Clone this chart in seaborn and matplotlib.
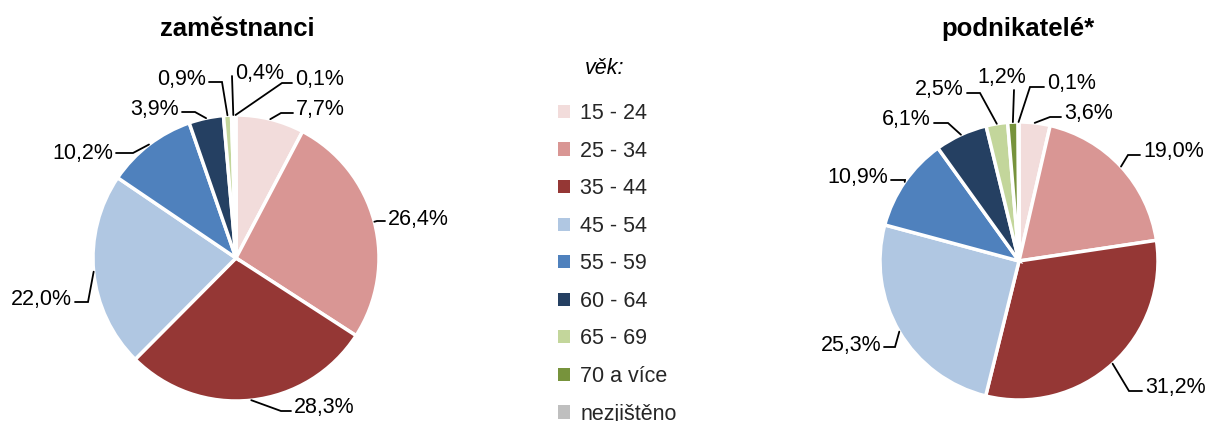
import numpy as np
import matplotlib
matplotlib.use("Agg")
import matplotlib.pyplot as plt
from matplotlib.patches import Patch
import seaborn as sns

# data
age_groups = ["15 - 24", "25 - 34", "35 - 44", "45 - 54", "55 - 59",
              "60 - 64", "65 - 69", "70 a více", "nezjištěno"]
zamestnanci = [7.7, 26.4, 28.3, 22.0, 10.2, 3.9, 0.9, 0.4, 0.1]
podnikatele = [3.6, 19.0, 31.2, 25.3, 10.9, 6.1, 2.5, 1.2, 0.1]
titles = ["zaměstnanci", "podnikatelé*"]

colors = ["#F2DCDB", "#D99694", "#953735", "#B0C7E2", "#4F81BD",
          "#254062", "#C3D69B", "#77933C", "#BFBFBF"]

sns.set_theme(style="white")
plt.rcParams["font.family"] = ["Liberation Sans", "DejaVu Sans"]
palette = sns.color_palette(colors)

W, H = 1208, 421
fig = plt.figure(figsize=(W / 100, H / 100), dpi=100)
ax = fig.add_axes([0, 0, 1, 1])

# layout (pixel coords, y from top): pie centre, radius, label text (x, y, ha), elbow of leader line
pies = [
    dict(vals=zamestnanci, cx=236, cy=258, r=143, tx=237,
         labels=[(296, 110, "left", 281, 113),
                 (388, 220, "left", 377, 221),
                 (294, 408, "left", 281, 411),
                 (72, 300, "right", 88, 302),
                 (113, 153, "right", 133, 153),
                 (179, 109, "right", 195, 112),
                 (206, 79, "right", 222, 82),
                 (235, 73, "left", 232, 76),
                 (295, 80, "left", 282, 83)]),
    dict(vals=podnikatele, cx=1019, cy=261, r=139, tx=1018,
         labels=[(1064, 114, "left", 1050, 117),
                 (1143, 152, "left", 1128, 155),
                 (1145, 388, "left", 1129, 391),
                 (881, 345, "right", 895, 347),
                 (888, 177, "right", 905, 180),
                 (931, 120, "right", 948, 123),
                 (964, 90, "right", 980, 93),
                 (1002, 78, "center", 1014, 90),
                 (1047, 84, "left", 1030, 87)]),
]

fs = 15.5
for p, title in zip(pies, titles):
    wedges, _ = ax.pie(p["vals"], colors=palette, startangle=90, counterclock=False,
                       center=(p["cx"], H - p["cy"]), radius=p["r"],
                       wedgeprops=dict(edgecolor="white", linewidth=2.5))
    for w, v, (tx, ty, ha, ex, ey) in zip(wedges, p["vals"], p["labels"]):
        ang = np.deg2rad((w.theta1 + w.theta2) / 2)
        px = p["cx"] + p["r"] * np.cos(ang)
        py = (H - p["cy"]) + p["r"] * np.sin(ang)
        if ha == "left":
            sx = tx - 3
        elif ha == "right":
            sx = tx + 3
        else:
            sx = ex
        ax.plot([px, ex, sx], [py, H - ey, H - ey], color="black", lw=1.3,
                solid_joinstyle="miter", clip_on=False)
        ax.text(tx, H - ty, f"{v:.1f}%".replace(".", ","), ha=ha, va="center",
                fontsize=fs, color="black")
    ax.text(p["tx"], H - 29, title, ha="center", va="center",
            fontsize=18.5, fontweight="bold", color="black")

ax.set_xlim(0, W)
ax.set_ylim(0, H)
ax.set_aspect("equal")
ax.axis("off")

# legend
handles = [Patch(facecolor=c, edgecolor="none") for c in palette]
leg = ax.legend(handles, age_groups, loc="upper left",
                bbox_to_anchor=(558 / W, 1 - 103 / H), frameon=False,
                fontsize=fs, handlelength=0.56, handleheight=0.56,
                handletextpad=0.47, labelspacing=0.77, borderpad=0, borderaxespad=0)
ax.text(585, H - 68, "věk:", ha="left", va="center", fontsize=fs,
        fontstyle="italic", color="black")

plt.savefig("out.png", dpi=100)
